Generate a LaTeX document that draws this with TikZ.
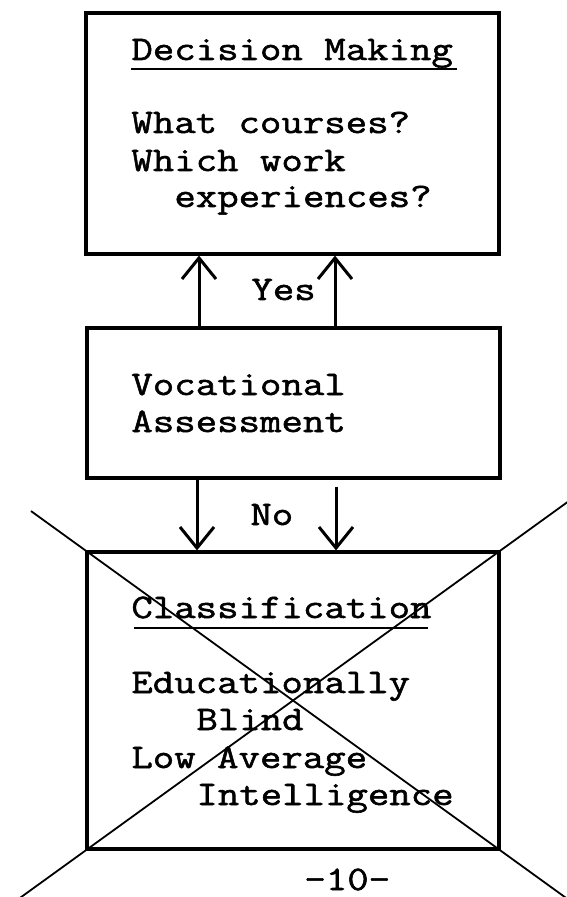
\documentclass[tikz,border=0pt]{standalone}
\usepackage{fontspec}
\newfontfamily\tw[FakeBold=1.6, FakeStretch=1.21]{Latin Modern Mono}
\usetikzlibrary{arrows.meta,fit,calc}
\tikzset{
  px/.style={x=0.5pt,y=-0.5pt},
  box/.style={draw, line width=1.6pt, inner sep=0pt},
  txt/.style={anchor=base west, inner sep=0pt, font=\tw\fontsize{17.2}{18.5}\selectfont},
  arr/.style={line width=1.5pt, -{Straight Barb[length=10.5pt,width=17pt]}},
  crossline/.style={line width=0.9pt},
  uline/.style={line width=0.9pt}
}
\begin{document}
\begin{tikzpicture}[px]
\useasboundingbox (0,0) rectangle (566,897);
% boxes
\node[box, fit={(86,13) (499,254)}] (dm) {};
\node[box, fit={(87,328) (500,478)}] (voc) {};
\node[box, fit={(87,552) (499,849)}] (cls) {};
% helper x positions
\coordinate (la) at (199,0);
\coordinate (ra) at (335,0);
\coordinate (lb) at (197,0);
\coordinate (rb) at (336,0);
% top box text
\node[txt] (t1) at (131,60) {Decision Making};
\draw[uline] ([yshift=-4.5pt]t1.base west) -- ([yshift=-4.5pt,xshift=2pt]t1.base east);
\node[txt] (t2) at (131,133) {What courses?};
\node[txt] (t3) at (131,171) {Which work};
\node[txt] (t4) at (174,207) {experiences?};
% vocational text
\node[txt] (v1) at (131,395) {Vocational};
\node[txt] (v2) at (131,432) {Assessment};
% classification text
\node[txt] (c1) at (131,618) {Classification};
\draw[uline] ([yshift=-5pt,xshift=1.5pt]c1.base west) -- ([yshift=-5pt,xshift=-2pt]c1.base east);
\node[txt] (c2) at (131,693) {Educationally};
\node[txt] (c3) at (196,730) {Blind};
\node[txt] (c4) at (131,768) {Low Average};
\node[txt] (c5) at (196,805) {Intelligence};
% labels
\node[txt] (yes) at (251,300) {Yes};
\node[txt] (no) at (250,525) {No};
\node[txt] (pg) at (304,890) {-10-};
% arrows
\draw[arr] (voc.north -| la) -- (dm.south -| la);
\draw[arr] (voc.north -| ra) -- (dm.south -| ra);
\draw[arr] (voc.south -| lb) -- (cls.north -| lb);
\draw[arr] ([yshift=-3.5pt]voc.south -| rb) -- (cls.north -| rb);
% cross
\draw[crossline] ($(cls.north west)!-0.131!(cls.south east)$) -- ($(cls.north west)!1.163!(cls.south east)$);
\draw[crossline] ($(cls.north east)!-0.162!(cls.south west)$) -- ($(cls.north east)!1.167!(cls.south west)$);
\end{tikzpicture}
\end{document}
